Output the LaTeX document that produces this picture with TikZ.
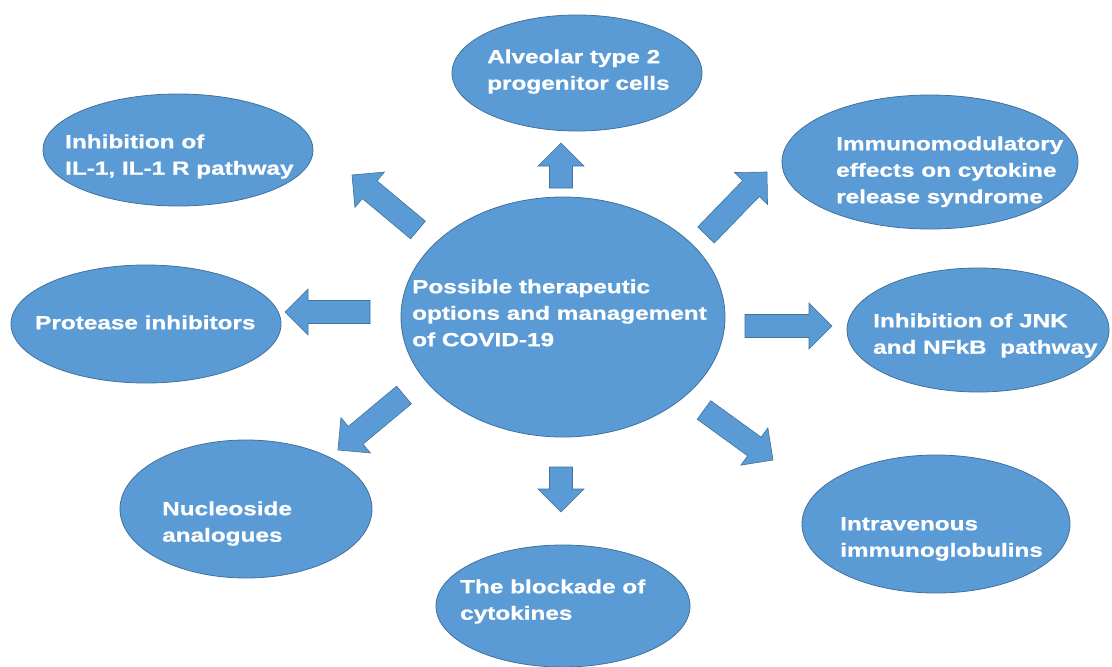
\documentclass[tikz,border=0pt]{standalone}
\usepackage{fontspec}
\usetikzlibrary{shapes.geometric,calc}
\newfontfamily\lab{Liberation Sans}[FakeStretch=1.28,FakeBold=0.8]
\definecolor{bfill}{RGB}{91,155,213}
\definecolor{bline}{RGB}{65,113,156}
\tikzset{
  bubble/.style={ellipse, fill=bfill, draw=bline, line width=0.8pt, inner sep=0pt},
  arrowfill/.style={fill=bfill, draw=bline, line width=0.6pt, line join=miter},
  lbl/.style={anchor=north west, inner sep=0pt, align=left, text=white,
    font=\lab\bfseries\fontsize{19}{26.5}\selectfont},
}
\newcommand\blockarrow[3]{%
  \coordinate (#3b) at ($(#2)!23pt!(#1)$);
  \filldraw[arrowfill] ($(#1)!11.5pt!90:(#2)$) -- ($(#3b)!11.5pt!90:(#2)$) --
    ($(#3b)!23pt!90:(#2)$) -- (#2) -- ($(#3b)!23pt!-90:(#2)$) --
    ($(#3b)!11.5pt!-90:(#2)$) -- ($(#1)!11.5pt!-90:(#2)$) -- cycle;}
\begin{document}
\begin{tikzpicture}[x=1pt,y=-1pt]
\useasboundingbox (0,0) rectangle (1112,667);
\fill[white] (0,0) rectangle (1112,667);
% ellipses
\node[bubble, minimum width=324pt, minimum height=240pt] (center) at (563,317) {};
\node[bubble, minimum width=250pt, minimum height=116pt] (top) at (577,73) {};
\node[bubble, minimum width=270pt, minimum height=112pt] (tl) at (178,150) {};
\node[bubble, minimum width=296pt, minimum height=134pt] (tr) at (930,162) {};
\node[bubble, minimum width=270pt, minimum height=118pt] (left) at (146,324) {};
\node[bubble, minimum width=262pt, minimum height=124pt] (right) at (978,330) {};
\node[bubble, minimum width=252pt, minimum height=138pt] (bl) at (246,509) {};
\node[bubble, minimum width=254pt, minimum height=122pt] (bot) at (563,606) {};
\node[bubble, minimum width=268pt, minimum height=138pt] (br) at (936,524) {};
% texts
\def\sa{18.55}
\node[lbl] (tcenter) at (412,293-\sa) {\strut Possible therapeutic\\options and management\\of COVID-19};
\node[lbl] (ttop) at (487,63-\sa) {\strut Alveolar type 2\\progenitor cells};
\node[lbl] (ttl) at (65,148-\sa) {\strut Inhibition of\\IL-1, IL-1 R pathway};
\node[lbl] (ttr) at (836,150-\sa) {\strut Immunomodulatory\\effects on cytokine\\release syndrome};
\node[lbl] (tleft) at (35,329-\sa) {\strut Protease inhibitors};
\node[lbl] (tright) at (873,327-\sa) {\strut Inhibition of JNK\\and NFkB\ \ pathway};
\node[lbl] (tbl) at (162,515-\sa) {\strut Nucleoside\\analogues};
\node[lbl] (tbot) at (460,593-\sa) {\strut The blockade of\\cytokines};
\node[lbl] (tbr) at (840,530-\sa) {\strut Intravenous\\immunoglobulins};
% arrow ends
\coordinate (aUt) at (561,188); \coordinate (aUh) at (561,143);
\coordinate (aURt) at (706,235); \coordinate (aURh) at (767,172);
\coordinate (aLt) at (370,312); \coordinate (aLh) at (285,312);
\coordinate (aRt) at (745,326); \coordinate (aRh) at (832,326);
\coordinate (aDLt) at (404,395); \coordinate (aDLh) at (338,450);
\coordinate (aDt) at (561,467); \coordinate (aDh) at (561,512);
\coordinate (aDRt) at (704,410); \coordinate (aDRh) at (773,460);
\coordinate (aULt) at (418,230); \coordinate (aULh) at (352,175);
\blockarrow{aUt}{aUh}{aU}
\blockarrow{aURt}{aURh}{aUR}
\blockarrow{aLt}{aLh}{aL}
\blockarrow{aRt}{aRh}{aR}
\blockarrow{aDLt}{aDLh}{aDL}
\blockarrow{aDt}{aDh}{aD}
\blockarrow{aDRt}{aDRh}{aDR}
\blockarrow{aULt}{aULh}{aUL}
\end{tikzpicture}
\end{document}
